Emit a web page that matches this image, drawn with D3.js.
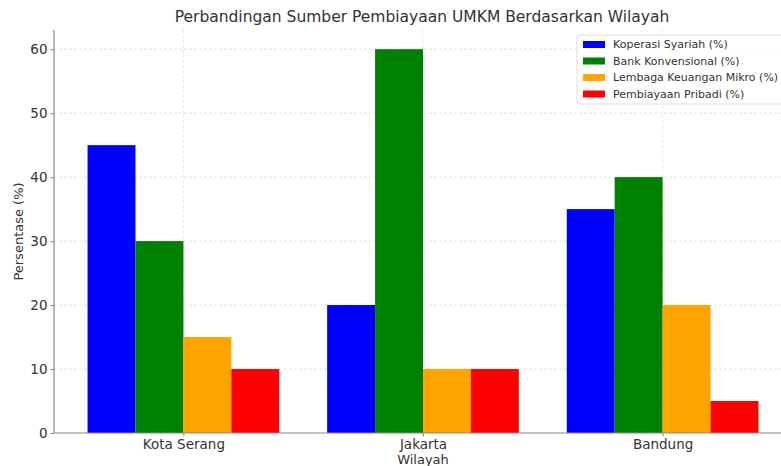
<!DOCTYPE html>
<html>
<head>
<meta charset="utf-8">
<script src="https://cdn.jsdelivr.net/npm/d3@7"></script>
<style>
  html, body { margin: 0; padding: 0; background: #fff; }
  svg text { font-family: "DejaVu Sans", sans-serif; fill: #333; }
</style>
</head>
<body>
<div id="chart"></div>
<script>
// ── Data ─────────────────────────────────────────────
const regions = ['Kota Serang', 'Jakarta', 'Bandung'];
const seriesNames = ['Koperasi Syariah (%)', 'Bank Konvensional (%)', 'Lembaga Keuangan Mikro (%)', 'Pembiayaan Pribadi (%)'];
const seriesColors = ['#0000ff', '#008000', '#ffa500', '#ff0000'];
const koperasi = [45, 20, 35];
const bank = [30, 60, 40];
const lembaga = [15, 10, 20];
const pribadi = [10, 10, 5];
const yTicks = [0, 10, 20, 30, 40, 50, 60];

const series = [koperasi, bank, lembaga, pribadi];

const W = 781, H = 466;
const mLeft = 54, mRight = 792, mTop = 30, mBottom = 433;

const svg = d3.select('#chart').append('svg')
    .attr('width', W).attr('height', H);

// Scales: category index space like matplotlib, bars width 0.2
const x = d3.scaleLinear().domain([-0.54, 2.54]).range([mLeft, mRight]);
const y = d3.scaleLinear().domain([0, 63]).range([mBottom, mTop]);
const barW = 0.2;

// Grid
const grid = svg.append('g');
grid.selectAll('line.h')
    .data(yTicks.filter(d => d > 0))
    .enter().append('line')
    .attr('x1', mLeft).attr('x2', mRight)
    .attr('y1', d => y(d)).attr('y2', d => y(d))
    .attr('stroke', '#d8d8d8').attr('stroke-width', 0.8)
    .attr('stroke-dasharray', '3,2');
grid.selectAll('line.v')
    .data(regions.map((_, i) => i))
    .enter().append('line')
    .attr('x1', d => x(d)).attr('x2', d => x(d))
    .attr('y1', mTop).attr('y2', mBottom)
    .attr('stroke', '#e2e2e2').attr('stroke-width', 0.8)
    .attr('stroke-dasharray', '3,2');

// Bars
series.forEach((vals, s) => {
    svg.append('g')
        .selectAll('rect')
        .data(vals)
        .enter().append('rect')
        .attr('x', (d, i) => x(i + (s - 1.5) * barW - barW / 2))
        .attr('width', x(barW) - x(0))
        .attr('y', d => y(d))
        .attr('height', d => y(0) - y(d))
        .attr('fill', seriesColors[s]);
});

// Axes
const yAxis = svg.append('g')
    .attr('transform', `translate(${mLeft},0)`)
    .call(d3.axisLeft(y).tickValues(yTicks).tickSize(3.5).tickPadding(3));
const xAxis = svg.append('g')
    .attr('transform', `translate(0,${mBottom})`)
    .call(d3.axisBottom(x).tickValues([0, 1, 2]).tickFormat(i => regions[i]).tickSize(3.5).tickPadding(3));
[yAxis, xAxis].forEach(a => {
    a.select('.domain').attr('stroke', '#888').attr('stroke-width', 1.2);
    a.selectAll('.tick line').attr('stroke', '#888');
    a.selectAll('.tick text').style('font-size', '13.5px').attr('fill', '#333');
});
yAxis.select('.domain').attr('d', `M0,${mTop}V${mBottom}`);
xAxis.select('.domain').attr('d', `M${mLeft},0H${mRight}`);

// Labels
svg.append('text')
    .attr('x', (mLeft + mRight) / 2 - 1).attr('y', 22)
    .attr('text-anchor', 'middle')
    .style('font-size', '15.5px')
    .text('Perbandingan Sumber Pembiayaan UMKM Berdasarkan Wilayah');
svg.append('text')
    .attr('x', (mLeft + mRight) / 2).attr('y', 464)
    .attr('text-anchor', 'middle')
    .style('font-size', '13px')
    .text('Wilayah');
svg.append('text')
    .attr('transform', `translate(23,${(mTop + mBottom) / 2}) rotate(-90)`)
    .attr('text-anchor', 'middle')
    .style('font-size', '13px')
    .text('Persentase (%)');

// Legend
const lg = svg.append('g').attr('transform', 'translate(577,35)');
lg.append('rect')
    .attr('width', 215).attr('height', 69)
    .attr('rx', 3)
    .attr('fill', 'rgba(255,255,255,0.85)')
    .attr('stroke', '#ddd');
const item = lg.selectAll('g.item')
    .data(seriesNames)
    .enter().append('g')
    .attr('transform', (d, i) => `translate(0,${9 + i * 16.5})`);
item.append('rect')
    .attr('x', 6).attr('y', -3).attr('width', 22).attr('height', 7)
    .attr('fill', (d, i) => seriesColors[i]);
item.append('text')
    .attr('x', 36).attr('y', 0.5)
    .attr('dy', '0.35em')
    .style('font-size', '11px')
    .text(d => d);
</script>
</body>
</html>
